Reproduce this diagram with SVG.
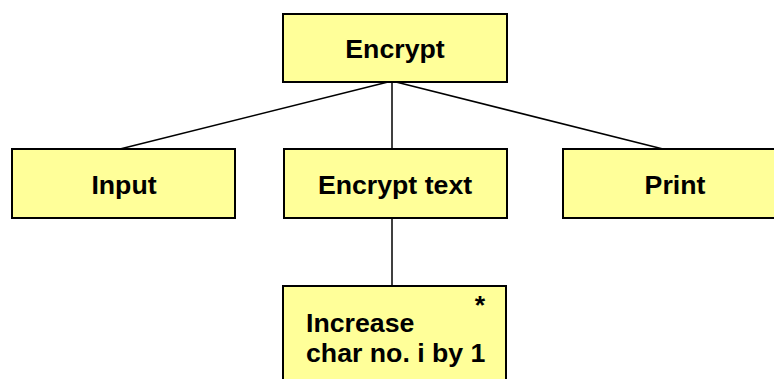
<svg xmlns="http://www.w3.org/2000/svg" width="774" height="379" viewBox="0 0 774 379">
  <style>
    .box { fill: #FFFF99; stroke: #000; stroke-width: 2; }
    .lbl { font-family: "Liberation Sans", Arial, sans-serif; font-weight: bold; font-size: 26.7px; fill: #000; }
    .c { text-anchor: middle; }
    .conn { stroke: #000; stroke-width: 1.5; fill: none; }
  </style>
  <rect width="774" height="379" fill="#fff"/>
  <g id="connectors">
    <line class="conn" x1="392" y1="81" x2="120" y2="149"/>
    <line class="conn" x1="392" y1="81" x2="392" y2="149"/>
    <line class="conn" x1="392" y1="81" x2="663" y2="149"/>
    <line class="conn" x1="392" y1="218" x2="392" y2="286"/>
    <rect x="389" y="80" width="7" height="3" fill="#000"/>
  </g>
  <g id="encrypt">
    <rect class="box" x="283" y="14" width="224" height="68"/>
    <text class="lbl c" x="395" y="58">Encrypt</text>
  </g>
  <g id="input">
    <rect class="box" x="12" y="149" width="223" height="69"/>
    <text class="lbl c" x="124" y="194">Input</text>
  </g>
  <g id="encrypt-text">
    <rect class="box" x="284" y="149" width="223" height="69"/>
    <text class="lbl c" x="395" y="194">Encrypt text</text>
  </g>
  <g id="print">
    <rect class="box" x="563" y="149" width="224" height="69"/>
    <text class="lbl c" x="675" y="194">Print</text>
  </g>
  <g id="increase">
    <rect class="box" x="283" y="286" width="223" height="120"/>
    <text class="lbl c" x="480" y="314">*</text>
    <text class="lbl" x="306" y="332">Increase</text>
    <text class="lbl" x="306" y="362">char no. i by 1</text>
  </g>
</svg>
